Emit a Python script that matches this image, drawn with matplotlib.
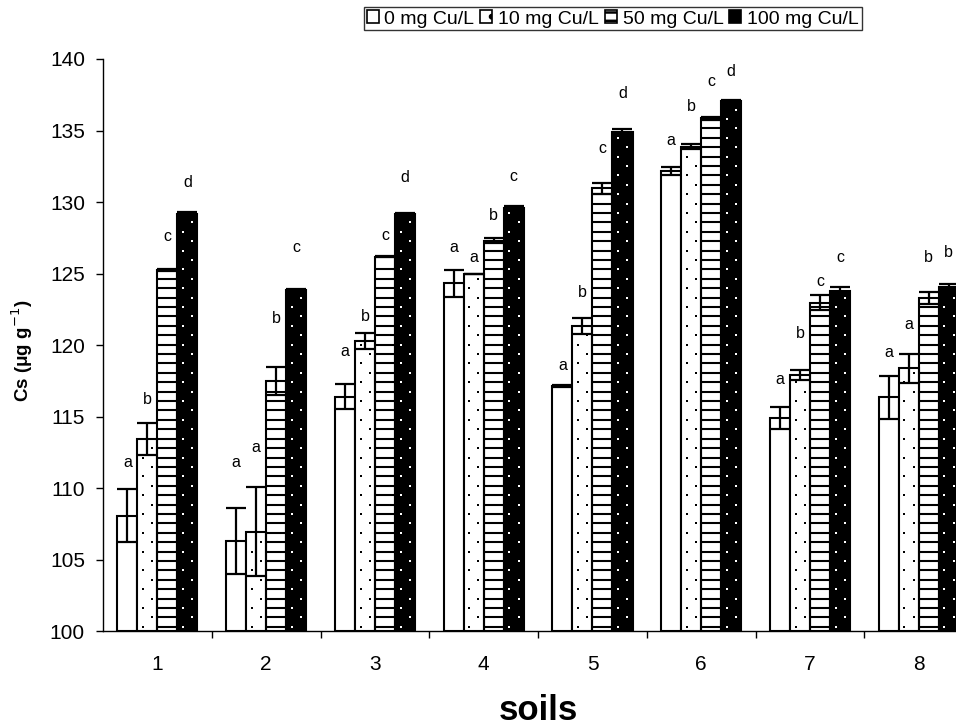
import matplotlib
matplotlib.use("Agg")
import matplotlib.pyplot as plt
import numpy as np
from matplotlib.patches import Patch

plt.rcParams['font.family'] = ['Liberation Sans', 'DejaVu Sans']
plt.rcParams['hatch.linewidth'] = 1.8

soils = ['1', '2', '3', '4', '5', '6', '7', '8']
series_names = ['0 mg Cu/L', '10 mg Cu/L', '50 mg Cu/L', '100 mg Cu/L']

cu0 = [108.07, 106.35, 116.41, 124.33, 117.15, 132.20, 114.90, 116.36]
cu10 = [113.46, 106.97, 120.32, 124.96, 121.35, 133.88, 117.93, 118.39]
cu50 = [125.26, 117.50, 126.19, 127.31, 130.95, 135.86, 122.98, 123.28]
cu100 = [129.18, 123.86, 129.15, 129.57, 134.89, 137.09, 123.82, 124.10]

err0 = [1.85, 2.30, 0.90, 0.93, 0.05, 0.28, 0.77, 1.52]
err10 = [1.14, 3.10, 0.55, 0.00, 0.55, 0.20, 0.35, 1.00]
err50 = [0.08, 1.00, 0.05, 0.15, 0.35, 0.10, 0.54, 0.42]
err100 = [0.10, 0.05, 0.10, 0.15, 0.20, 0.05, 0.23, 0.18]

letters0 = ['a', 'a', 'a', 'a', 'a', 'a', 'a', 'a']
letters10 = ['b', 'a', 'b', 'a', 'b', 'b', 'b', 'a']
letters50 = ['c', 'b', 'c', 'b', 'c', 'c', 'c', 'b']
letters100 = ['d', 'c', 'd', 'c', 'd', 'd', 'c', 'b']

lety0 = [111.84, 111.84, 119.53, 126.80, 118.55, 134.28, 117.57, 119.46]
lety10 = [116.18, 112.82, 121.98, 126.10, 123.65, 136.65, 120.85, 121.42]
lety50 = [127.57, 121.90, 127.64, 129.04, 133.72, 138.40, 124.42, 126.10]
lety100 = [131.34, 126.80, 131.69, 131.76, 137.56, 139.10, 126.10, 126.45]

values = [cu0, cu10, cu50, cu100]
errors = [err0, err10, err50, err100]
letters = [letters0, letters10, letters50, letters100]
lety = [lety0, lety10, lety50, lety100]

fig = plt.figure(figsize=(9.56, 7.28), dpi=100)
ax = fig.add_axes([0.1077, 0.1326, 0.9103, 0.7864])

x = np.arange(1, len(soils) + 1)
w = 0.184
offsets = [-1.5 * w, -0.5 * w, 0.5 * w, 1.5 * w]
lw = 1.5
step = 0.657  # texture row spacing (data units)


def dot_texture(xc, top, color):
    ys = np.arange(100 + step * 0.5, top - step * 0.3, step)
    k = np.arange(len(ys))
    xs = np.where(k % 2 == 0, xc - 0.22 * w, xc + 0.24 * w)
    ax.scatter(xs, ys, s=3.0, marker='s', c=color, linewidths=0, zorder=3.5)


def line_texture(xc, top):
    ys = np.arange(100 + step * 0.5, top - step * 0.4, step)
    ax.hlines(ys, xc - w / 2, xc + w / 2, colors='black', linewidth=1.5, zorder=2.5)


for i in range(4):
    xi = x + offsets[i]
    heights = np.array(values[i]) - 100
    if i == 0:
        ax.bar(xi, heights, w, bottom=100, facecolor='white', edgecolor='black', linewidth=lw, zorder=3)
    elif i == 1:
        ax.bar(xi, heights, w, bottom=100, facecolor='white', edgecolor='black', linewidth=lw, zorder=3)
        for xc, top in zip(xi, values[i]):
            dot_texture(xc, top, 'black')
    elif i == 2:
        ax.bar(xi, heights, w, bottom=100, facecolor='white', edgecolor='none', linewidth=0, zorder=2)
        for xc, top in zip(xi, values[i]):
            line_texture(xc, top)
        ax.bar(xi, heights, w, bottom=100, facecolor='none', edgecolor='black', linewidth=lw, zorder=3)
    else:
        ax.bar(xi, heights, w, bottom=100, facecolor='black', edgecolor='black', linewidth=lw, zorder=3)
        for xc, top in zip(xi, values[i]):
            dot_texture(xc, top, 'white')
    ax.errorbar(xi, values[i], yerr=errors[i], fmt='none', ecolor='black',
                elinewidth=1.6, capsize=7.5, capthick=1.6, zorder=4)
    for xx, yy, t in zip(xi, lety[i], letters[i]):
        ax.text(xx, yy, t, ha='center', va='center', fontsize=11.5, zorder=5)

ax.set_xlim(0.5, len(soils) + 0.5)
ax.set_ylim(100, 140)
ax.set_yticks(np.arange(100, 141, 5))
ax.set_xticks(x)
ax.set_xticklabels(soils)
ax.set_xticks(np.arange(1.5, len(soils), 1), minor=True)
ax.tick_params(axis='x', which='major', length=0, pad=17, labelsize=15)
ax.tick_params(axis='x', which='minor', length=5, width=1, direction='out')
ax.tick_params(axis='y', which='major', length=5, width=1, direction='out', pad=8, labelsize=15)

for s in ['top', 'right']:
    ax.spines[s].set_visible(False)
ax.spines['left'].set_linewidth(1.0)
ax.spines['bottom'].set_linewidth(1.0)

ax.set_ylabel('Cs (μg g$^{-1}$)', fontsize=13.5, fontweight='bold')
ax.yaxis.set_label_coords(-0.093, 0.49)
ax.yaxis.label.set_va('center')
ax.set_xlabel('soils', fontsize=25, fontweight='bold')
ax.xaxis.set_label_coords(0.5, -0.138)
ax.xaxis.label.set_va('center')

handles = [
    Patch(facecolor='white', edgecolor='black', linewidth=1.2),
    Patch(facecolor='white', edgecolor='black', hatch='.', linewidth=1.2),
    Patch(facecolor='white', edgecolor='black', hatch='--', linewidth=1.2),
    Patch(facecolor='black', edgecolor='black', linewidth=1.2),
]
leg = fig.legend(handles, series_names, loc='center', bbox_to_anchor=(0.641, 0.974),
                 ncol=4, fontsize=14, frameon=True, fancybox=False,
                 edgecolor='black', handlelength=0.62, handleheight=0.62,
                 handletextpad=0.3, columnspacing=0.3, borderpad=0.15,
                 borderaxespad=0)
leg.get_frame().set_linewidth(1.0)

fig.savefig('out.png', dpi=100)
